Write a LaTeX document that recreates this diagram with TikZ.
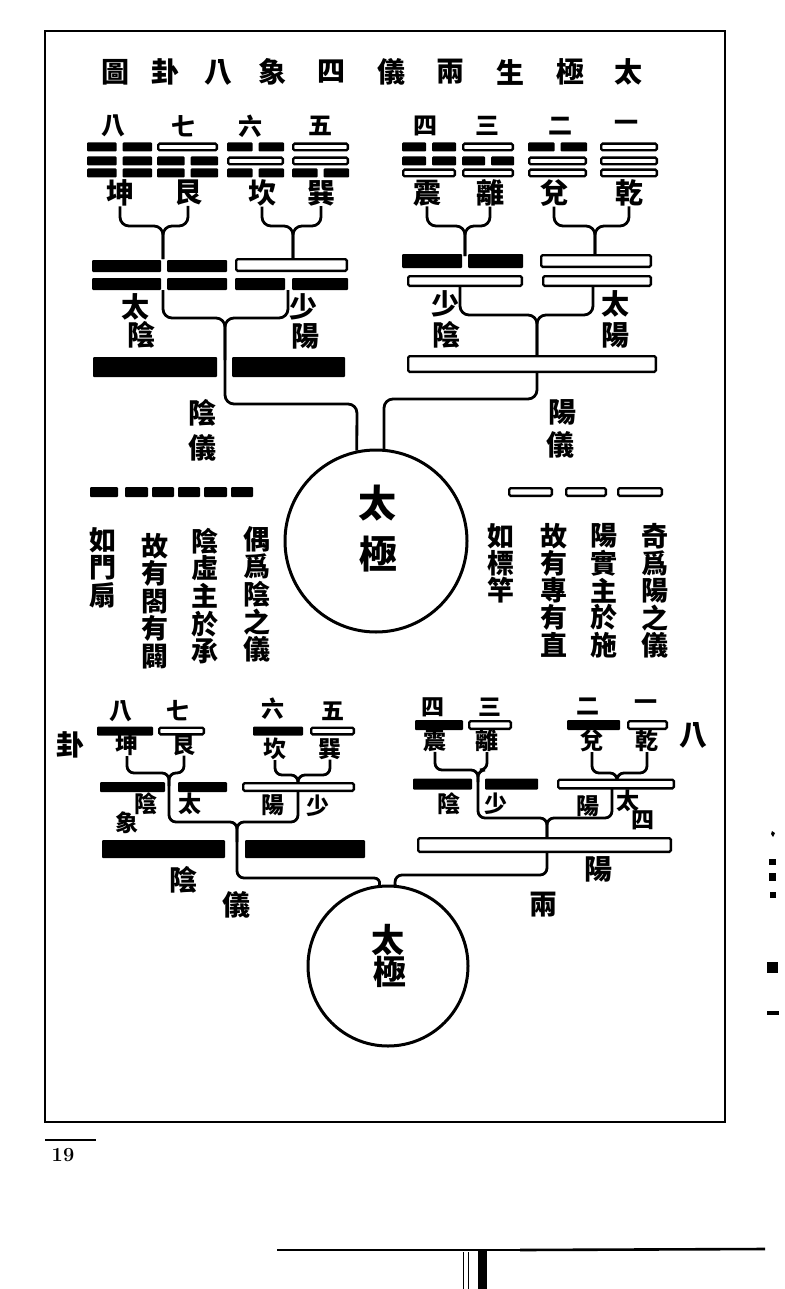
\documentclass[tikz,border=0pt]{standalone}
\usepackage{fontspec}
\newfontfamily\cjk{Noto Sans CJK TC}
\newcommand{\yinseg}[4]{\fill[yinb] (#1,{#3-#4/2}) rectangle (#2,{#3+#4/2});}
\newcommand{\yangseg}[4]{\draw[yangb] ({#1+1.15},{#3-#4/2+1.15}) rectangle ({#2-1.15},{#3+#4/2-1.15});}
\newcommand{\yinline}[4]{\pgfmathsetmacro{\gapa}{(#1+#2)/2-3}\pgfmathsetmacro{\gapb}{(#1+#2)/2+3}\yinseg{#1}{\gapa}{#3}{#4}\yinseg{\gapb}{#2}{#3}{#4}}
\newcommand{\tline}[4]{\ifnum#4=1 \yangseg{#1}{#2}{#3}{9}\else\yinline{#1}{#2}{#3}{9}\fi}
\newcommand{\trigram}[5]{\tline{#1}{#2}{147}{#3}\tline{#1}{#2}{161}{#4}\tline{#1}{#2}{173}{#5}}
\newcommand{\vcol}[5]{\foreach \cc [count=\ii] in {#5}{\node[coltx] (#1-\ii) at (#2,{#3+(\ii-1)*#4}) {\cc};}}
\begin{document}
\begin{tikzpicture}[x=1pt,y=-1pt,
  conn/.style={line width=2.8pt, rounded corners=9pt},
  connL/.style={line width=2.8pt, rounded corners=7pt},
  yangb/.style={draw=black, line width=2.3pt, fill=white, rounded corners=1.5pt},
  yinb/.style={fill=black, rounded corners=1pt},
  lab/.style={font=\cjk\bfseries\fontsize{28}{28}\selectfont, inner sep=0pt},
  ttl/.style={font=\cjk\bfseries\fontsize{28}{28}\selectfont, inner sep=0pt},
  num/.style={font=\cjk\bfseries\fontsize{24}{24}\selectfont, inner sep=0pt},
  coltx/.style={font=\cjk\bfseries\fontsize{27}{27}\selectfont, inner sep=0pt},
  big/.style={font=\cjk\bfseries\fontsize{38}{38}\selectfont, inner sep=0pt},
  sml/.style={font=\cjk\bfseries\fontsize{23}{23}\selectfont, inner sep=0pt},
  ring/.style={draw, circle, line width=3pt, inner sep=0pt},
]
\useasboundingbox (0,0) rectangle (784,1289);
\fill[white] (0,0) rectangle (784,1289);
% frame
\draw[line width=2pt] (45,31) rectangle (725,1122);
% title
\foreach \ch/\xx [count=\ii] in {圖/115,卦/165,八/218,象/272,四/331,儀/391,兩/450,生/510,極/570,太/628}
  \node[ttl] (title-\ii) at (\xx,72) {\ch};

% ---------- upper diagram ----------
\foreach \ch/\xx [count=\ii] in {八/113,七/183,六/250,五/320,四/425,三/487,二/560,一/626}
  \node[num] (unum-\ii) at (\xx,126) {\ch};
\foreach \ch/\xx [count=\ii] in {坤/120,艮/188,坎/262,巽/321,震/427,離/490,兌/554,乾/629}
  \node[lab] (nm-\ii) at (\xx,193) {\ch};

\node[ring, minimum size=182pt] (taiji1) at (376,541) {};
\node[big] (tj1a) at (377,503) {太};
\node[big] (tj1b) at (378,554) {極};

% braces, level 1
\coordinate (J1) at (163,226); \coordinate (D1t) at (163,259);
\coordinate (J2) at (293,226); \coordinate (D2t) at (293,258);
\coordinate (J3) at (465,226); \coordinate (D3t) at (465,256);
\coordinate (J4) at (595,226); \coordinate (D4t) at (595,255);
\draw[conn] (nm-1.south) |- (J1) -- (D1t);
\draw[conn] (nm-2.south) |- (J1) -- (D1t);
\draw[conn] (nm-3.south) |- (J2) -- (D2t);
\draw[conn] (nm-4.south) |- (J2) -- (D2t);
\draw[conn] (nm-5.south) |- (J3) -- (D3t);
\draw[conn] (nm-6.south) |- (J3) -- (D3t);
\draw[conn] (nm-7.south) |- (J4) -- (D4t);
\draw[conn] (nm-8.south) |- (J4) -- (D4t);
% braces, level 2
\coordinate (D1b) at (163,290); \coordinate (D2b) at (288,290);
\coordinate (J5) at (225,318); \coordinate (B1t) at (225,360);
\coordinate (UL) at (357,404);
\draw[conn] (D1b) |- (J5) |- (UL) -- (taiji1.102);
\draw[conn] (D2b) |- (J5) -- (B1t);
\coordinate (D3b) at (460,287); \coordinate (D4b) at (593,287);
\coordinate (J6) at (537,315); \coordinate (B2t) at (537,357);
\coordinate (B2b) at (537,372); \coordinate (UR) at (384,399);
\draw[conn] (D3b) |- (J6) -- (B2t);
\draw[conn] (D4b) |- (J6) -- (B2t);
\draw[conn] (B2b) |- (UR) -- (taiji1.85);

% trigrams (top, middle, bottom; 1 = yang)
\trigram{87}{152}{0}{0}{0}
\trigram{157}{218}{1}{0}{0}
\trigram{227}{284}{0}{1}{0}
\trigram{292}{349}{1}{1}{0}
\trigram{402}{456}{0}{0}{1}
\trigram{462}{514}{1}{0}{1}
\trigram{528}{587}{0}{1}{1}
\trigram{600}{658}{1}{1}{1}
% digrams
\yinseg{92}{161}{266}{12}\yinseg{167}{227}{266}{12}
\yinseg{92}{161}{284}{12}\yinseg{167}{227}{284}{12}
\yangseg{235}{348}{265}{14}
\yinseg{235}{285}{284}{12}\yinseg{292}{348}{284}{12}
\yinseg{402}{462}{261}{14}\yinseg{468}{523}{261}{14}
\yangseg{407}{523}{281}{12}
\yangseg{540}{652}{261}{14}
\yangseg{542}{652}{281}{12}
% monograms
\yinseg{93}{217}{367}{20}\yinseg{232}{345}{367}{20}
\yangseg{407}{657}{364}{18}

% digram labels
\node[lab] (sa-1) at (135,307) {太};
\node[lab] (sa-2) at (141,335) {陰};
\node[lab] (sb-1) at (303,307) {少};
\node[lab] (sb-2) at (305,336) {陽};
\node[lab] (sc-1) at (445,304) {少};
\node[lab] (sc-2) at (446,335) {陰};
\node[lab] (sd-1) at (615,304) {太};
\node[lab] (sd-2) at (615,335) {陽};
% yi labels
\node[lab] (ya-1) at (202,413) {陰};
\node[lab] (ya-2) at (202,448) {儀};
\node[lab] (yb-1) at (562,412) {陽};
\node[lab] (yb-2) at (560,445) {儀};
% broken / whole dashes
\yinseg{90}{118}{492}{10}\yinseg{125}{148}{492}{10}\yinseg{152}{174}{492}{10}
\yinseg{178}{200}{492}{10}\yinseg{204}{227}{492}{10}\yinseg{231}{253}{492}{10}
\yangseg{508}{553}{492}{10}\yangseg{565}{607}{492}{10}\yangseg{617}{663}{492}{10}
% text columns
\vcol{ca}{257}{539}{27.6}{偶,爲,陰,之,儀}
\vcol{cb}{205}{541}{27.6}{陰,虛,主,於,承}
\vcol{cc}{155}{546}{27.6}{故,有,閤,有,闢}
\vcol{cd}{103}{540}{27.6}{如,門,扇}
\vcol{ce}{655}{536}{27.2}{奇,爲,陽,之,儀}
\vcol{cf}{604}{536}{27.2}{陽,實,主,於,施}
\vcol{cg}{554}{536}{27.2}{故,有,專,有,直}
\vcol{ch}{501}{536}{27.2}{如,標,竿}

% ---------- lower diagram ----------
\foreach \ch/\xx/\yy [count=\ii] in {八/121/711,七/178/711,六/273/709,五/333/711,四/433/707,三/490/707,二/588/706,一/646/705}
  \node[sml] (lnum-\ii) at (\xx,\yy) {\ch};
\foreach \ch/\xx/\yy [count=\ii] in {坤/127/745,艮/184/745,坎/275/749,巽/330/749,震/435/741,離/487/741,兌/592/741,乾/647/741}
  \node[sml] (ln-\ii) at (\xx,\yy) {\ch};
\node[lab] (gua) at (70,745) {卦};
\node[lab] (ba) at (693,735) {八};

\node[ring, minimum size=160pt] (taiji2) at (388,966) {};
\node[font=\cjk\bfseries\fontsize{33}{33}\selectfont, inner sep=0pt] (tj2a) at (388,940) {太};
\node[font=\cjk\bfseries\fontsize{33}{33}\selectfont, inner sep=0pt] (tj2b) at (390,972) {極};

\coordinate (K1) at (169,773); \coordinate (K1d) at (169,786);
\coordinate (K2) at (237,822); \coordinate (K2d) at (237,842);
\coordinate (LL) at (381,878);
\draw[connL] (ln-1.south) |- (K1) |- (K2) |- (LL) -- (taiji2.96);
\draw[connL] (ln-2.south) |- (K1) -- (K1d);
\coordinate (K3) at (298,775); \coordinate (W1t) at (298,783); \coordinate (W1b) at (298,791);
\draw[connL] (ln-3.south) |- (K3) -- (W1t);
\draw[connL] (ln-4.south) |- (K3) -- (W1t);
\draw[connL] (W1b) |- (K2) -- (K2d);
\coordinate (K4) at (478,770); \coordinate (K4d) at (478,782);
\coordinate (K5) at (547,818); \coordinate (W3t) at (547,838); \coordinate (W3b) at (547,852);
\coordinate (RR) at (395,875);
\draw[connL] (ln-5.south) |- (K4) |- (K5) -- (W3t);
\draw[connL] (ln-6.south) |- (K4) -- (K4d);
\coordinate (K6) at (617,773); \coordinate (W2t) at (617,780); \coordinate (W2b) at (612,789);
\draw[connL] (ln-7.south) |- (K6) -- (W2t);
\draw[connL] (ln-8.south) |- (K6) -- (W2t);
\draw[connL] (W2b) |- (K5) -- (W3t);
\draw[connL] (W3b) |- (RR) -- (taiji2.85);

% top row single lines
\yinseg{97}{153}{731}{9}\yangseg{158}{205}{731}{9}\yinseg{253}{303}{731}{9}\yangseg{310}{355}{731}{9}
\yinseg{415}{463}{725}{10}\yangseg{468}{512}{725}{10}\yinseg{567}{620}{725}{10}\yangseg{627}{668}{725}{10}
% second row
\yinseg{100}{165}{787}{10}\yinseg{178}{227}{787}{10}\yangseg{242}{355}{787}{10}
\yinseg{413}{472}{784}{11}\yinseg{485}{538}{784}{11}\yangseg{557}{675}{784}{11}
% third row
\yinseg{102}{225}{849}{18}\yinseg{245}{365}{849}{18}
\yangseg{417}{672}{845}{16}

\node[sml] (lx-1) at (146,804) {陰};
\node[sml] (lx-2) at (190,804) {太};
\node[sml] (lx-3) at (273,805) {陽};
\node[sml] (lx-4) at (318,806) {少};
\node[sml] (lx-5) at (127,823) {象};
\node[sml] (lx-6) at (449,804) {陰};
\node[sml] (lx-7) at (496,804) {少};
\node[sml] (lx-8) at (588,806) {陽};
\node[sml] (lx-9) at (628,801) {太};
\node[sml] (lx-10) at (643,820) {四};
\node[lab] (ly-1) at (183,880) {陰};
\node[lab] (ly-2) at (236,905) {儀};
\node[lab] (ly-3) at (598,869) {陽};
\node[lab] (ly-4) at (543,905) {兩};

% page number
\draw[line width=1.5pt] (45,1140) -- (96,1140);
\node[font=\bfseries\fontsize{20}{20}\selectfont, inner sep=0pt] (pg) at (63,1155) {19};
% margin marks
\fill (772,831) -- (775,833) -- (773,837) -- (771,834) -- cycle;
\fill (769,859) rectangle (776,865);
\fill (769,873) rectangle (776,881);
\fill (770,892) rectangle (776,898);
\fill (767,962) rectangle (778,973);
\fill (767,1011) rectangle (779,1015);
% bottom gutter
\draw[line width=1.6pt] (277,1250) -- (520,1250);
\draw[line width=2.6pt] (520,1250) -- (765,1249);
\draw[line width=0.8pt] (463,1252) -- (463,1289);
\draw[line width=0.8pt] (468,1252) -- (468,1289);
\fill (478,1250) rectangle (487,1289);
\end{tikzpicture}
\end{document}
